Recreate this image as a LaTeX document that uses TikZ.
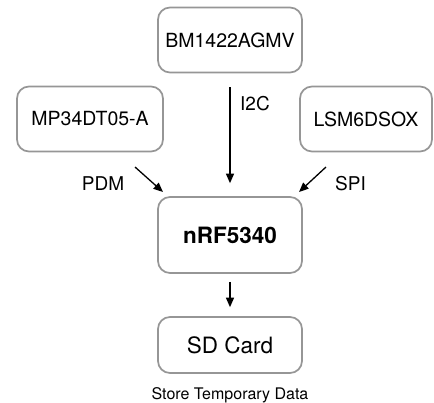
\documentclass[tikz,border=0pt]{standalone}
\usepackage{fontspec}
\setmainfont{TeX Gyre Heros}
\usepackage{tikz}
\usetikzlibrary{positioning,calc,arrows.meta}

\definecolor{boxgray}{RGB}{150,150,150}

\tikzset{
  block/.style={draw=boxgray, line width=1.7pt, rounded corners=12pt, fill=white,
    minimum width=144pt, minimum height=65pt, inner sep=0pt,
    font=\fontsize{19.5}{22}\selectfont},
  bus/.style={line width=1.3pt, -{Triangle[length=9.5pt,width=8pt]}},
  buslabel/.style={inner sep=0pt, font=\fontsize{19}{22}\selectfont}
}

\begin{document}
\begin{tikzpicture}[x=1pt, y=-1pt]
   \useasboundingbox (0,0) rectangle (434,402);

   % Sensors
   \node (bm) at (230,40) [block] {BM1422AGMV};
   \node (mp) at (90,119) [block, minimum width=146pt] {MP34DT05-A};
   \node (lsm) at (366,119) [block, minimum width=132pt] {LSM6DSOX};

   % MCU and storage
   \node (nrf) at (230,235) [block, minimum height=76pt,
      font=\fontsize{22.5}{26}\selectfont\bfseries] {nRF5340};
   \node (sd) at (230,345) [block, minimum height=56pt,
      font=\fontsize{22.5}{26}\selectfont] {SD Card};
   \node (note) at (230,399) [anchor=base, inner sep=0pt,
      font=\fontsize{16}{18}\selectfont] {Store Temporary Data};

   % Buses
   \coordinate (pdm-a) at (135,167);
   \coordinate (pdm-b) at (163,192);
   \coordinate (spi-a) at (326,167);
   \coordinate (spi-b) at (299,192);

   \draw[bus, shorten <=14pt, shorten >=13pt] (bm) -- (nrf);
   \draw[bus] (pdm-a) -- (pdm-b);
   \draw[bus] (spi-a) -- (spi-b);
   \draw[bus, shorten <=8pt, shorten >=9pt] (nrf) -- (sd);

   \node (i2c) at (240,110) [buslabel, anchor=base west] {I2C};
   \node (pdm) at (103,190) [buslabel, anchor=base] {PDM};
   \node (spi) at (335,190) [buslabel, anchor=base west] {SPI};
\end{tikzpicture}
\end{document}
